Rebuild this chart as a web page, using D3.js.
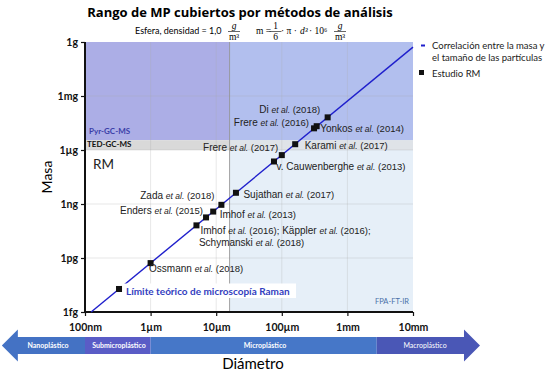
<!DOCTYPE html>
<html>
<head>
<meta charset="utf-8">
<script src="https://cdn.jsdelivr.net/npm/d3@7"></script>
<style>
  body { margin: 0; background: #fff; }
  svg { display: block; }
</style>
</head>
<body>
<svg id="chart" width="550" height="374"></svg>
<script>
// diameters in metres, masses in grams
var diamTicks = [1e-7, 1e-6, 1e-5, 1e-4, 1e-3, 1e-2];
var diamTickLabels = ["100nm", "1µm", "10µm", "100µm", "1mm", "10mm"];
var massTicks = [1e-15, 1e-12, 1e-9, 1e-6, 1e-3, 1];
var massTickLabels = ["1fg", "1pg", "1ng", "1µg", "1mg", "1g"];

// correlation line endpoints
var lineDiam = [1.24e-7, 1e-2];
var lineMass = [1e-15, 0.52];

// RM study points
var studyDiam = [0.33e-6, 1e-6, 5e-6, 7e-6, 9e-6, 12e-6, 20e-6, 76e-6, 100e-6, 160e-6, 310e-6, 340e-6, 500e-6];
var studyMass = [1.9e-14, 5.2e-13, 6.5e-11, 1.8e-10, 3.8e-10, 9.0e-10, 4.2e-9, 2.3e-7, 5.2e-7, 2.1e-6, 1.6e-5, 2.1e-5, 6.5e-5];
// each label line: list of [author, year] pairs
var studyLabels = [
  null,
  [[["Ossmann", "2018"]]],
  [[["Imhof", "2016"], ["Käppler", "2016"]], [["Schymanski", "2018"]]],
  [[["Enders", "2015"]]],
  [[["Imhof", "2013"]]],
  [[["Zada", "2018"]]],
  [[["Sujathan", "2017"]]],
  [[["v. Cauwenberghe", "2013"]]],
  [[["Frere", "2017"]]],
  [[["Karami", "2017"]]],
  [[["Frere", "2016"]]],
  [[["Yonkos", "2014"]]],
  [[["Di", "2018"]]]
];

// method regions [dMin, dMax, mMin, mMax]
var regionNames = ["FPA-FT-IR", "Pyr-GC-MS", "Pyr-GC-MS overlap", "TED-GC-MS", "TED-GC-MS overlap"];
var regionBounds = [
  [1.6e-5, 1e-2, 1e-15, 1],
  [1e-7, 1.6e-5, 3.5e-6, 1],
  [1.6e-5, 1e-2, 3.5e-6, 1],
  [1e-7, 1.6e-5, 1e-6, 3.5e-6],
  [1.6e-5, 1e-2, 1e-6, 3.5e-6]
];
var regionColors = ["#e6eff8", "#acaee6", "#b2bfee", "#d9d9d9", "#dfe3e8"];

// size classes along the bottom arrow
var classNames = ["Nanoplástico", "Submicroplástico", "Microplástico", "Macroplástico"];
var classBounds = [[5.4e-9, 1e-7], [1e-7, 1e-6], [1e-6, 2.8e-3], [2.8e-3, 1.05e-1]];
var classColors = ["#4472c4", "#5a5cc6", "#4677c8", "#4a57b6"];

var svg = d3.select("#chart");
var x = d3.scaleLog().domain([1e-7, 1e-2]).range([85, 413]);
var y = d3.scaleLog().domain([1e-15, 1]).range([312, 42]);

// title + formula
svg.append("text")
  .attr("x", 240).attr("y", 17)
  .attr("text-anchor", "middle")
  .attr("font-family", "Open Sans").attr("font-weight", "bold").attr("font-size", 13)
  .text("Rango de MP cubiertos por métodos de análisis");

var f = svg.append("g").attr("font-family", "Liberation Serif").attr("font-size", 9.5);
f.append("text").attr("x", 135).attr("y", 34).attr("font-family", "Lato").attr("font-size", 9)
  .text("Esfera, densidad  = 1,0");
var frac = function(cx, top, bottom, italicTop){
  f.append("text").attr("x", cx).attr("y", 29).attr("text-anchor", "middle")
    .attr("font-style", italicTop ? "italic" : null).text(top);
  f.append("line").attr("x1", cx - 6).attr("x2", cx + 6).attr("y1", 31.5).attr("y2", 31.5)
    .attr("stroke", "#000").attr("stroke-width", 0.6);
  f.append("text").attr("x", cx).attr("y", 40).attr("text-anchor", "middle").text(bottom);
};
frac(234, "g", "m³", true);
f.append("text").attr("x", 256).attr("y", 34).text("m =");
frac(275.5, "1", "6", false);
f.append("text").attr("x", 281).attr("y", 34).text("· π · ");
f.append("text").attr("x", 300).attr("y", 34).attr("font-style", "italic").text("d³");
f.append("text").attr("x", 309).attr("y", 34).text("· 10⁶");
frac(340, "g", "m³", true);

// regions
svg.append("g").selectAll("rect")
  .data(regionBounds)
  .join("rect")
  .attr("x", function(d){ return x(d[0]); })
  .attr("width", function(d){ return x(d[1]) - x(d[0]); })
  .attr("y", function(d){ return y(d[3]); })
  .attr("height", function(d){ return y(d[2]) - y(d[3]); })
  .attr("fill", function(d, i){ return regionColors[i]; });

// grid
var grid = svg.append("g").attr("stroke", "#aaa").attr("stroke-opacity", 0.35).attr("stroke-width", 0.8);
grid.selectAll(".vg").data(diamTicks.slice(1, 5)).join("line")
  .attr("x1", x).attr("x2", x).attr("y1", y(1)).attr("y2", y(1e-15));
grid.selectAll(".hg").data(massTicks.slice(1, 5)).join("line")
  .attr("y1", y).attr("y2", y).attr("x1", x(1e-7)).attr("x2", x(1e-2));
svg.append("line")
  .attr("x1", x(1.6e-5)).attr("x2", x(1.6e-5)).attr("y1", y(1)).attr("y2", y(1e-15))
  .attr("stroke", "#8c8c8c").attr("stroke-width", 0.8);

// region labels
svg.append("text").attr("x", 89).attr("y", 133.5).attr("font-family", "Lato").attr("font-weight", "bold")
  .attr("font-size", 8).attr("fill", "#3b3ea8").text("Pyr-GC-MS");
svg.append("text").attr("x", 87).attr("y", 147).attr("font-family", "Lato").attr("font-weight", "bold")
  .attr("font-size", 8).attr("fill", "#111").text("TED-GC-MS");
svg.append("text").attr("x", 93).attr("y", 169).attr("font-family", "Lato")
  .attr("font-size", 13.5).attr("fill", "#222").text("RM");
svg.append("text").attr("x", 409).attr("y", 304).attr("text-anchor", "end").attr("font-family", "Lato")
  .attr("font-size", 7.5).attr("fill", "#4a6fa8").text("FPA-FT-IR");

// axes
var yAxis = svg.append("g").attr("transform", "translate(85,0)")
  .call(d3.axisLeft(y).tickValues(massTicks).tickSize(4)
    .tickFormat(function(d, i){ return massTickLabels[i]; }));
var xAxis = svg.append("g").attr("transform", "translate(0,312)")
  .call(d3.axisBottom(x).tickValues(diamTicks).tickSize(4)
    .tickFormat(function(d, i){ return diamTickLabels[i]; }));
[yAxis, xAxis].forEach(function(a){
  a.select(".domain").attr("stroke", "#111").attr("stroke-width", 2);
  a.selectAll(".tick line").attr("stroke", "#111").attr("stroke-width", 1.2);
  a.selectAll("text").attr("font-family", "Lato").attr("font-weight", "bold")
    .attr("font-size", 10.5).attr("fill", "#111");
});
yAxis.select(".domain").attr("d", "M0," + y(1) + "V" + y(1e-15));
xAxis.select(".domain").attr("d", "M" + x(1e-7) + ",0H" + x(1e-2));
xAxis.selectAll("text").attr("dy", "1.1em");

svg.append("text").attr("transform", "translate(52,177) rotate(-90)")
  .attr("text-anchor", "middle").attr("font-family", "Lato").attr("font-size", 14).text("Masa");

// correlation line
svg.append("line")
  .attr("x1", x(lineDiam[0])).attr("y1", y(lineMass[0]))
  .attr("x2", x(lineDiam[1])).attr("y2", y(lineMass[1]))
  .attr("stroke", "#1f1fcc").attr("stroke-width", 1.4);

// Raman limit label
svg.append("rect").attr("x", 122).attr("y", 283.5).attr("width", 174).attr("height", 14.5).attr("fill", "#fff");
svg.append("text").attr("x", 126).attr("y", 294.5).attr("font-family", "Lato").attr("font-weight", "bold")
  .attr("font-size", 10).attr("fill", "#3340c0").text("Límite teórico de microscopía Raman");

// points
svg.append("g").selectAll("rect")
  .data(studyDiam)
  .join("rect")
  .attr("x", function(d){ return x(d) - 3; })
  .attr("y", function(d, i){ return y(studyMass[i]) - 3; })
  .attr("width", 6).attr("height", 6)
  .attr("fill", "#111");

// label layout: offsets from point, anchor
var labelLayout = [
  null,
  [[-1.5, 8.5, "start"]],
  [[4, 9, "start"], [2.5, 21, "start"]],
  [[-3, -3, "end"]],
  [[6.5, 6.5, "start"]],
  [[-7, -5.5, "end"]],
  [[7.5, 5, "start"]],
  [[2.5, 8.5, "start"]],
  [[-3.5, -4, "end"]],
  [[9.5, 5, "start"]],
  [[-5, -2, "end"]],
  [[3.5, 6, "start"]],
  [[-7.5, -4.5, "end"]]
];
var labG = svg.append("g").attr("font-family", "Liberation Sans").attr("font-size", 10).attr("fill", "#222");
studyLabels.forEach(function(lines, i){
  if (!lines) return;
  lines.forEach(function(refs, j){
    var lay = labelLayout[i][j];
    var t = labG.append("text")
      .attr("x", x(studyDiam[i]) + lay[0])
      .attr("y", y(studyMass[i]) + lay[1])
      .attr("text-anchor", lay[2]);
    refs.forEach(function(r, k){
      var multi = refs.length > 1;
      t.append("tspan").text((k > 0 ? "  " : "") + r[0] + " ");
      t.append("tspan").attr("font-style", "italic").attr("font-size", 8.5).text("et al.");
      t.append("tspan").attr("font-size", 9.5).text(" (" + r[1] + ")" + (multi ? ";" : ""));
    });
  });
});

// legend
var lg = svg.append("g").attr("font-family", "Lato").attr("font-size", 9.5).attr("fill", "#222");
lg.append("line").attr("x1", 421).attr("x2", 425).attr("y1", 45.5).attr("y2", 45.5)
  .attr("stroke", "#1f1fcc").attr("stroke-width", 2);
lg.append("text").attr("x", 432).attr("y", 48.5).text("Correlación entre la masa y");
lg.append("text").attr("x", 432).attr("y", 61).text("el tamaño de las partículas");
lg.append("rect").attr("x", 419).attr("y", 70).attr("width", 5).attr("height", 5).attr("fill", "#111");
lg.append("text").attr("x", 432).attr("y", 77).text("Estudio RM");

// bottom arrow
var bandTop = 337, bandBot = 354, bandMid = (bandTop + bandBot) / 2;
var headLen = 16, headHalf = 16;
var band = svg.append("g");
classBounds.forEach(function(b, i){
  var x0 = x(b[0]), x1 = x(b[1]);
  var pts;
  if (i === 0) {
    pts = [[x0, bandMid], [x0 + headLen, bandMid - headHalf], [x0 + headLen, bandTop], [x1, bandTop],
           [x1, bandBot], [x0 + headLen, bandBot], [x0 + headLen, bandMid + headHalf]];
  } else if (i === classBounds.length - 1) {
    pts = [[x0, bandTop], [x1 - headLen, bandTop], [x1 - headLen, bandMid - headHalf], [x1, bandMid],
           [x1 - headLen, bandMid + headHalf], [x1 - headLen, bandBot], [x0, bandBot]];
  } else {
    pts = [[x0, bandTop], [x1, bandTop], [x1, bandBot], [x0, bandBot]];
  }
  band.append("polygon").attr("points", pts.map(function(p){ return p.join(","); }).join(" "))
    .attr("fill", classColors[i]);
});
var classLabelX = [48, 119, 265, 425];
band.selectAll("text").data(classNames).join("text")
  .attr("x", function(d, i){ return classLabelX[i]; })
  .attr("y", bandMid + 2.5)
  .attr("text-anchor", "middle")
  .attr("font-family", "Lato").attr("font-size", 7)
  .attr("font-weight", function(d, i){ return i === 3 ? "normal" : "bold"; })
  .attr("fill", "#fff")
  .text(function(d){ return d; });

svg.append("text").attr("x", 253).attr("y", 369).attr("text-anchor", "middle")
  .attr("font-family", "Lato").attr("font-size", 15).text("Diámetro");
</script>
</body>
</html>
